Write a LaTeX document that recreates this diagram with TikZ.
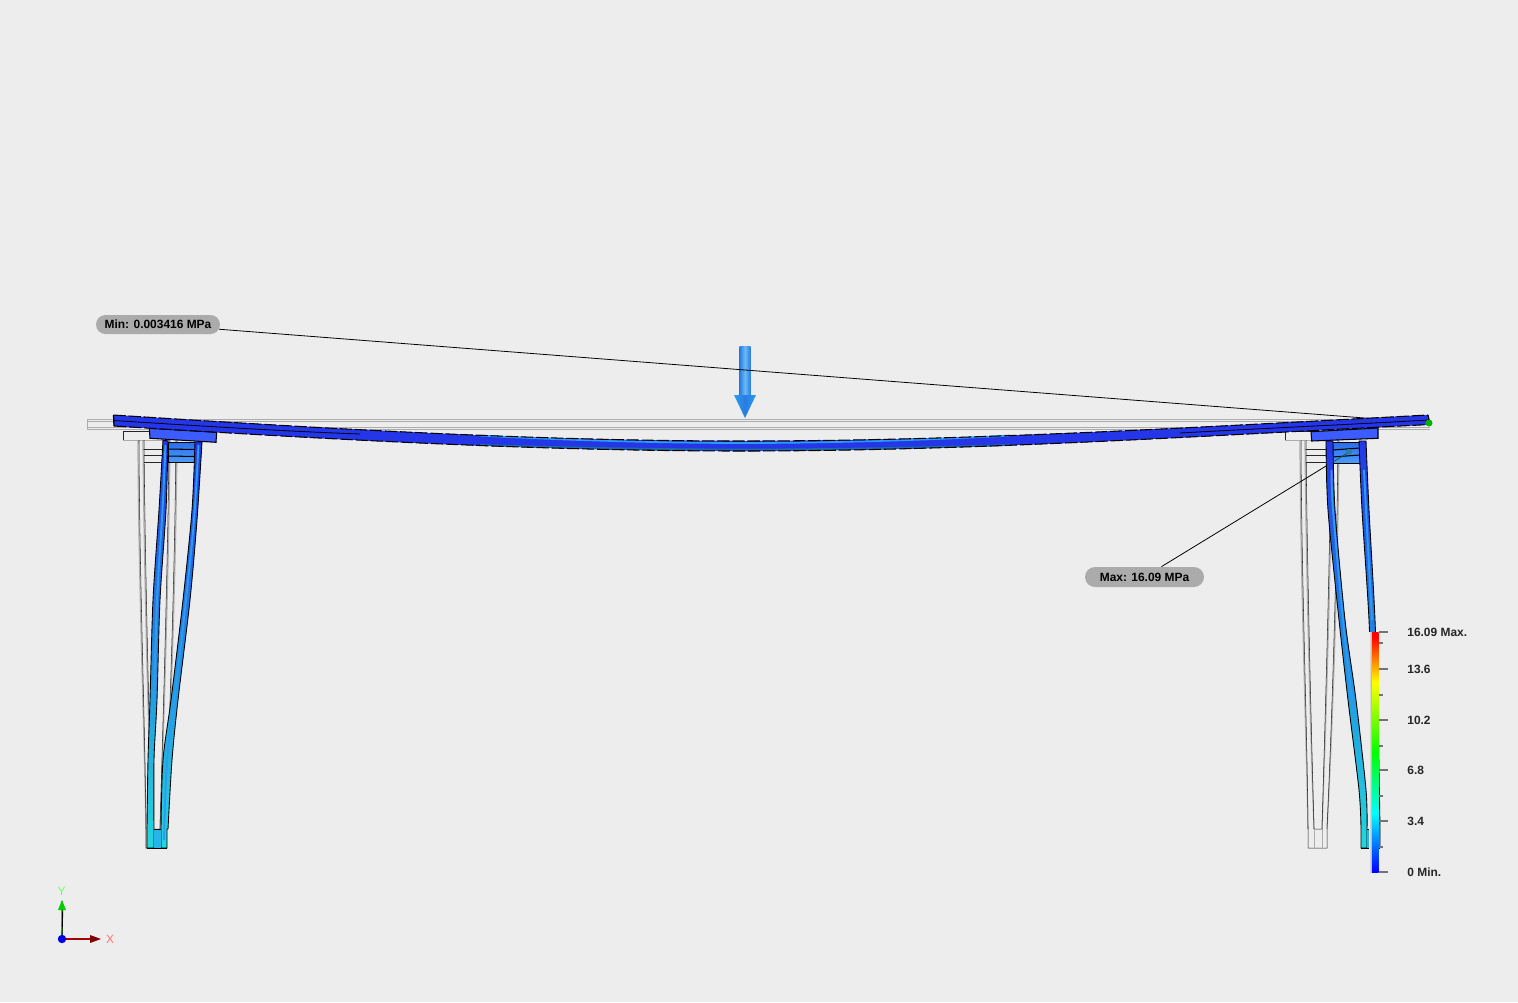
\documentclass[tikz,border=0pt]{standalone}
\usepackage{fontspec}
\setmainfont{Liberation Sans}
\usetikzlibrary{shapes.misc, arrows.meta, positioning}
\definecolor{bgcol}{HTML}{EDEDED}
\definecolor{beamblue}{HTML}{2436E8}
\definecolor{coreblue}{HTML}{3C5CFF}
\definecolor{midblue}{HTML}{2A6CF0}
\definecolor{skyblue}{HTML}{2A9CF2}
\definecolor{ribblue}{HTML}{4A9CF6}
\definecolor{legcyan}{HTML}{22D8DC}
\definecolor{pillgray}{HTML}{ABABAB}
\definecolor{headblue}{HTML}{2A7CE0}
\pgfdeclareverticalshading{legendbar}{100bp}{
    color(0bp)=(blue); color(25bp)=(blue); color(37.3bp)=(cyan);
    color(49.8bp)=(green); color(64.5bp)=(yellow); color(74bp)=(red); color(100bp)=(red)}

\begin{document}
\begin{tikzpicture}[
    x=0.02cm,
    y=-0.02cm,
    font=\fontsize{6.8}{8}\selectfont,
    ghost/.style={draw=gray!65, line width=0.7pt},
    ghostdark/.style={draw=black!85, line width=0.3pt},
    beamfill/.style={left color=beamblue, middle color=coreblue, right color=beamblue},
    beamedge/.style={draw=black, line width=0.6pt, dash pattern=on 7pt off 1.6pt},
    plate/.style={draw=black, line width=0.6pt, fill=coreblue},
    leg/.style={draw=black, line width=0.5pt, top color=beamblue, middle color=coreblue, bottom color=legcyan},
    stripe/.style={draw=skyblue, line width=1.1pt},
    ribs/.style={draw=black, line width=0.5pt, top color=midblue, bottom color=ribblue},
    pill/.style={rounded rectangle, fill=pillgray, inner sep=0pt, font=\fontsize{6.8}{8}\selectfont\bfseries},
    leader/.style={draw=black, line width=0.45pt},
    tick/.style={draw=gray!90!black, line width=0.6pt},
    vallabel/.style={anchor=west, inner sep=0pt, yshift=-0.25pt, text=black!85, font=\fontsize{6.8}{8}\selectfont\bfseries}
]
    \useasboundingbox [fill=bgcol] (0, 0) rectangle (1518, 1002);

    % Undeformed outline (grey wires)
    \draw [ghost, line width=0.45pt] (87, 419.5) -- (1430, 419.5);
    \draw [ghost, line width=0.45pt] (87, 421.5) -- (1430, 421.5);
    \draw [ghost, line width=0.45pt] (87, 427) -- (1430, 427);
    \draw [ghost, line width=0.45pt] (87, 429) -- (1430, 429) (87, 419.5) -- (87, 429);
    \foreach \dx in {0, 1162} {
        \begin{scope}[shift={(\dx, 0)}]
            \draw [ghostdark] (123, 431) -- (150, 431) (123, 431) -- (123, 440) -- (170, 440);
            \draw [ghost, line width=0.45pt] (123, 440.5) -- (170, 440.5);
            % Ribs
            \foreach \y in {449, 455, 462} {
                \draw [ghostdark, line width=0.5pt] (143, \y) -- (165, \y);
            }
            % Outer and inner wires of both tapers
            \draw [ghost] (138, 440) .. controls (138.5, 580) and (144, 720) .. (146, 829);
            \draw [ghost] (143, 440) .. controls (144, 560) and (148, 720) .. (152, 829);
            \draw [ghost] (177, 440) .. controls (176, 560) and (171, 720) .. (165, 829);
            \draw [ghost] (170, 440) .. controls (169, 560) and (164, 720) .. (160, 829);
            \draw [ghostdark] (139, 440) .. controls (139.5, 580) and (145, 720) .. (146, 829) -- (146, 848) -- (165, 848) -- (165, 829) .. controls (170, 720) and (175, 560) .. (176, 440);
            \draw [ghostdark] (144, 440) .. controls (145, 560) and (149, 720) .. (152, 829) -- (160, 829) .. controls (163, 720) and (168, 560) .. (169, 440);
            \draw [ghost, line width=0.4pt] (152, 829) -- (152, 848) (160, 829) -- (160, 848);
        \end{scope}
    }

    % Load arrow
    \shade [left color=headblue, right color=headblue, middle color=skyblue!70!white] (739.5, 346) rectangle (750.5, 396);
    \shade [left color=skyblue, right color=skyblue, middle color=headblue] (734, 395) -- (756, 395) -- (745, 418) -- cycle;

    % Probe points and call-outs
    \coordinate (minpt) at (1429, 423);
    \coordinate (maxpt) at (1349, 452);
    \node [pill, minimum width=124*0.02cm, minimum height=19*0.02cm] (minlabel) at (158, 324.5) {Min: 0.003416 MPa};
    \node [pill, minimum width=119*0.02cm, minimum height=20*0.02cm] (maxlabel) at (1144.5, 577) {Max: 16.09 MPa};
    \draw [leader] (minlabel) -- (minpt);
    \draw [leader] (maxlabel) -- (maxpt);

    % Left support (deformed)
    \draw [ribs] (168, 442) rectangle (196, 462);
    \draw [line width=0.6pt] (168, 449) -- (196, 449.5) (168, 456) -- (196, 456.5);
    \draw [leg] plot [smooth] coordinates {(163, 440) (159, 510) (153, 600) (150, 700) (148, 760) (147, 829)} -- (147, 848) -- (154, 848) -- (154, 829) -- plot [smooth] coordinates {(154, 829) (154, 760) (157, 700) (160, 600) (166, 510) (168, 441)} -- cycle;
    \draw [leg] plot [smooth] coordinates {(195, 442) (192, 510) (183, 600) (171, 700) (163, 760) (161, 829)} -- (161, 848) -- (167, 848) -- (167, 829) -- plot [smooth] coordinates {(168, 829) (172, 760) (178, 700) (190, 600) (197, 520) (202, 442)} -- cycle;
    \fill [skyblue!60!legcyan] (154, 829) rectangle (161, 848);
    \draw [line width=0.5pt] (154, 829) -- (161, 829) (147, 848) -- (167, 848);
    \draw [stripe] plot [smooth] coordinates {(165.5, 445) (162.5, 510) (157, 600) (154, 700)};
    \draw [stripe] plot [smooth] coordinates {(198.5, 445) (194, 520) (186, 600) (174.5, 700) (167, 760) (164, 840)};

    % Right support (deformed)
    \draw [ribs] (1332, 442) rectangle (1360, 463);
    \draw [line width=0.6pt] (1332, 450) -- (1360, 448) (1332, 457) -- (1360, 455);
    \draw [leg] plot [smooth] coordinates {(1326, 441) (1328, 510) (1339, 620) (1348, 700) (1359, 790) (1361, 829)} -- (1361, 848) -- (1367, 848) -- (1367, 829) -- plot [smooth] coordinates {(1367, 829) (1366, 790) (1356, 700) (1345, 620) (1335, 510) (1333, 441)} -- cycle;
    \draw [leg] plot [smooth] coordinates {(1359, 441) (1362, 510) (1369, 620) (1372, 720) (1374, 829)} -- (1374, 848) -- (1380, 848) -- (1380, 829) -- plot [smooth] coordinates {(1380, 829) (1378, 720) (1375, 620) (1369, 510) (1366, 441)} -- cycle;
    \fill [skyblue!60!legcyan] (1367, 829) rectangle (1374, 848);
    \draw [line width=0.5pt] (1367, 829) -- (1374, 829) (1361, 848) -- (1380, 848);
    \draw [stripe] plot [smooth] coordinates {(1331.5, 470) (1333, 510) (1343, 620) (1352, 700)};
    \draw [stripe] plot [smooth] coordinates {(1364, 470) (1366, 510) (1372, 620)};
    \draw [black!60!legcyan, line width=0.45pt] (1333, 462) -- (maxpt);
    \fill [legcyan!50!ribblue!70!black] (maxpt) circle (3);

    % Top plates
    \draw [plate] (149.3, 428.3) -- (216.7, 432.3) -- (216, 442.3) -- (150, 438.3) -- cycle;
    \draw [plate] (1311, 431.7) -- (1378, 428) -- (1378, 438.3) -- (1311.7, 441) -- cycle;

    % Deformed top sheet
    \fill [beamfill] (113.5, 415) .. controls (324, 428.5) and (533, 441) .. (743, 441)
        .. controls (971, 441) and (1200, 427) .. (1428, 415) -- (1430, 424.5)
        .. controls (1200, 436) and (971, 451) .. (743, 451)
        .. controls (533, 451) and (324, 439) .. (114, 426) -- cycle;
    \draw [skyblue, line width=1pt] (480, 435.5) .. controls (560, 440) and (660, 443) .. (743, 443) .. controls (830, 443) and (930, 440) .. (1010, 435.5);
    \draw [skyblue!70!black, line width=1pt] (480, 445) .. controls (560, 447.5) and (660, 449.5) .. (743, 449.5) .. controls (830, 449.5) and (930, 447.5) .. (1010, 445);
    \draw [beamedge] (113.5, 415) .. controls (324, 428.5) and (533, 441) .. (743, 441)
        .. controls (971, 441) and (1200, 427) .. (1428, 415);
    \draw [beamedge] (114, 426) .. controls (324, 439) and (533, 451) .. (743, 451)
        .. controls (971, 451) and (1200, 436) .. (1430, 424.5);
    \draw [black, line width=0.7pt] (113.5, 415) -- (114, 426) (1428, 415) -- (1430, 424.5);
    \draw [black, line width=0.45pt] (114, 420.5) .. controls (200, 426) and (280, 431) .. (360, 434);
    \draw [black, line width=0.45pt] (1429, 420) .. controls (1340, 425) and (1270, 428) .. (1180, 433);

    % Probe dot
    \fill [green!70!black] (minpt) circle (3.5);

    % Colour legend
    \fill [left color=bgcol, right color=black!35] (1369, 632) rectangle (1372, 872);
    \shade [shading=legendbar] (1372, 632) rectangle (1378.5, 872);
    \foreach \y/\val/\tx in {632/16.09 Max./max, 669/13.6/a, 720/10.2/b, 770/6.8/c, 821/3.4/d, 872/0 Min./min} {
        \draw [tick] (1378.5, \y) -- (1388, \y);
        \node [vallabel] (val\tx) at (1407, \y) {\val};
    }
    \foreach \y in {643, 695, 746, 796, 847} {
        \draw [tick] (1378.5, \y) -- (1383, \y);
    }

    % Triad
    \coordinate (origin) at (62, 939);
    \coordinate (xtip) at (101, 939);
    \coordinate (ytip) at (62, 901);
    \draw [line width=1.6pt, green!75!black!85!white] (origin) -- (ytip);
    \draw [line width=0.5pt, black] (origin) -- (62.8, 908);
    \fill [green!80!black] (62, 900) -- (58, 910) -- (66, 910) -- cycle;
    \draw [line width=1.5pt, red!65!black] (origin) -- (90, 939);
    \fill [red!50!black] (101, 939) -- (90, 935) -- (90, 943) -- cycle;
    \fill [blue!90!black] (origin) circle (4.2);
    \node [inner sep=0pt, text=green!60!white] (ylabel) at (61.5, 891) {Y};
    \node [inner sep=0pt, text=red!55!white] (xlabel) at (110, 939) {X};
\end{tikzpicture}
\end{document}
